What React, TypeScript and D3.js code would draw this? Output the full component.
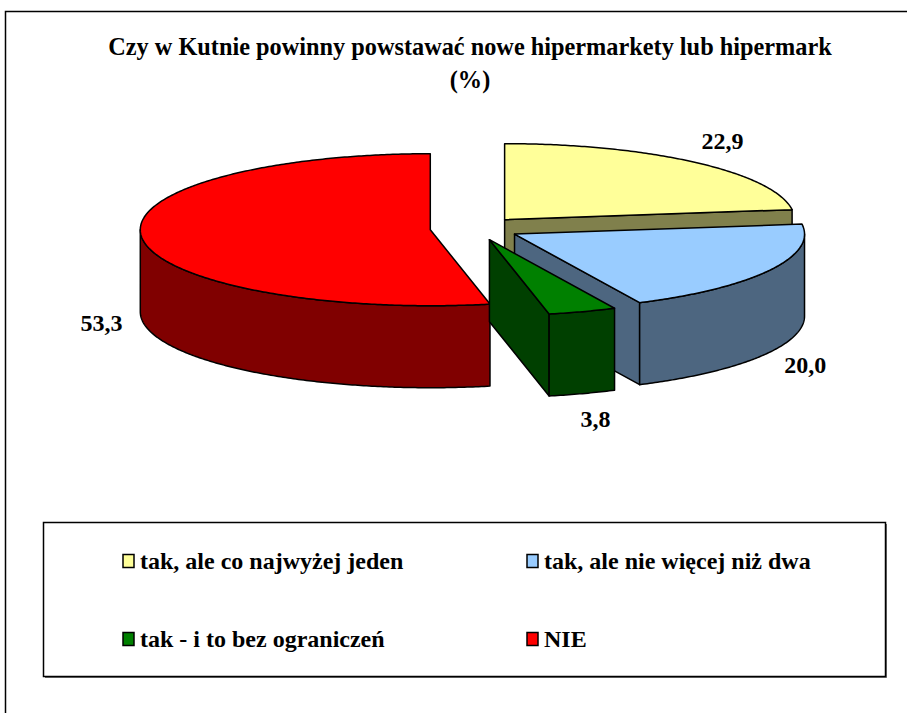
import React from "react";
import * as d3 from "d3";

const categories = [
  "tak, ale co najwyżej jeden",
  "tak, ale nie więcej niż dwa",
  "tak - i to bez ograniczeń",
  "NIE",
];
const values = [22.9, 20.0, 3.8, 53.3];
const valueLabels = ["22,9", "20,0", "3,8", "53,3"];
const topColors = ["#FFFF99", "#99CCFF", "#008000", "#FF0000"];
const sideColors = ["#80804C", "#4D6680", "#004000", "#800000"];
const titleLines = ["Czy w Kutnie powinny powstawać nowe hipermarkety lub hipermark", "(%)"];

const W = 907;
const H = 713;
const CX = 475;
const CY = 228.5;
const RX = 290;
const RY = 76;
const DEPTH = 82;
const EXPLODE = 0.155;
const FONT = "Liberation Serif";

type P = [number, number];

export default function App() {
  const pie = d3
    .pie<number>()
    .sort(null)
    .value((d) => d)
    .startAngle(0)
    .endAngle(2 * Math.PI);
  const arcs = pie(values);

  const line = d3
    .line<P>()
    .x((d) => d[0])
    .y((d) => d[1]);

  const slices = arcs.map((a, i) => {
    const mid = (a.startAngle + a.endAngle) / 2;
    const cx = CX + EXPLODE * RX * Math.sin(mid);
    const cy = CY - EXPLODE * RY * Math.cos(mid);
    const pt = (t: number, z = 0, k = 1): P => [
      cx + k * RX * Math.sin(t),
      cy - k * RY * Math.cos(t) + z,
    ];
    const arcPts = (t0: number, t1: number, z = 0): P[] => {
      const n = Math.max(2, Math.ceil(Math.abs(t1 - t0) / 0.01));
      return d3.range(n + 1).map((j) => pt(t0 + ((t1 - t0) * j) / n, z));
    };
    const a0 = a.startAngle;
    const a1 = a.endAngle;
    const parts: { d: string; fill: string }[] = [];
    const c: P = [cx, cy];
    const cb: P = [cx, cy + DEPTH];
    if (Math.sin(a1) > 1e-6) {
      parts.push({ d: line([c, pt(a1), pt(a1, DEPTH), cb])! + "Z", fill: sideColors[i] });
    }
    if (-Math.sin(a0) > 1e-6) {
      parts.push({ d: line([c, pt(a0), pt(a0, DEPTH), cb])! + "Z", fill: sideColors[i] });
    }
    const s = Math.max(a0, Math.PI / 2);
    const e = Math.min(a1, (3 * Math.PI) / 2);
    if (e > s) {
      const pts = [...arcPts(s, e), ...arcPts(e, s, DEPTH)];
      parts.push({ d: line(pts)! + "Z", fill: sideColors[i] });
    }
    const top = [c, ...arcPts(a0, a1)];
    parts.push({ d: line(top)! + "Z", fill: topColors[i] });

    const front = Math.cos(mid) < 0;
    const lx = cx + 1.14 * RX * Math.sin(mid);
    const ly = cy - 1.34 * RY * Math.cos(mid) + (front ? DEPTH : -3);
    return { parts, label: valueLabels[i], lx, ly };
  });

  const drawOrder = [0, 3, 1, 2];

  const legendX = [123, 527];
  const legendY = [561, 639];

  return (
    <div style={{ position: "fixed", left: 0, top: 0 }}>
      <svg width={W} height={H} style={{ display: "block", background: "#fff" }}>
        <rect x={5.5} y={11.5} width={1000} height={1000} fill="#fff" stroke="#000" strokeWidth={1.5} />
        {titleLines.map((t, i) => (
          <text key={i} x={470} y={55 + i * 33} textAnchor="middle" fontSize={24.3} fontWeight="bold" style={{ fontFamily: FONT }}>
            {t}
          </text>
        ))}
        {drawOrder.map((i) => (
          <g key={i}>
            {slices[i].parts.map((p, j) => (
              <path key={j} d={p.d} fill={p.fill} stroke="#000" strokeWidth={1.5} strokeLinejoin="round" />
            ))}
          </g>
        ))}
        {slices.map((s, i) => (
          <text
            key={i}
            x={s.lx}
            y={s.ly + 8.5}
            textAnchor="middle"
            fontSize={24}
            fontWeight="bold"
            style={{ fontFamily: FONT }}
          >
            {s.label}
          </text>
        ))}
        <rect x={43.5} y={522.5} width={842} height={154} fill="#fff" stroke="#000" strokeWidth={1.5} />
        <line x1={45} y1={677.5} x2={886.5} y2={677.5} stroke="#555" strokeWidth={1} />
        <line x1={886.5} y1={524} x2={886.5} y2={677.5} stroke="#555" strokeWidth={1} />
        {categories.map((c, i) => {
          const x = legendX[i % 2];
          const y = legendY[Math.floor(i / 2)];
          return (
            <g key={i}>
              <rect x={x} y={y - 6.5} width={11} height={13} fill={topColors[i]} stroke="#000" strokeWidth={1.5} />
              <text x={x + 17} y={y + 8} fontSize={24} fontWeight="bold" style={{ fontFamily: FONT }}>
                {c}
              </text>
            </g>
          );
        })}
      </svg>
    </div>
  );
}
